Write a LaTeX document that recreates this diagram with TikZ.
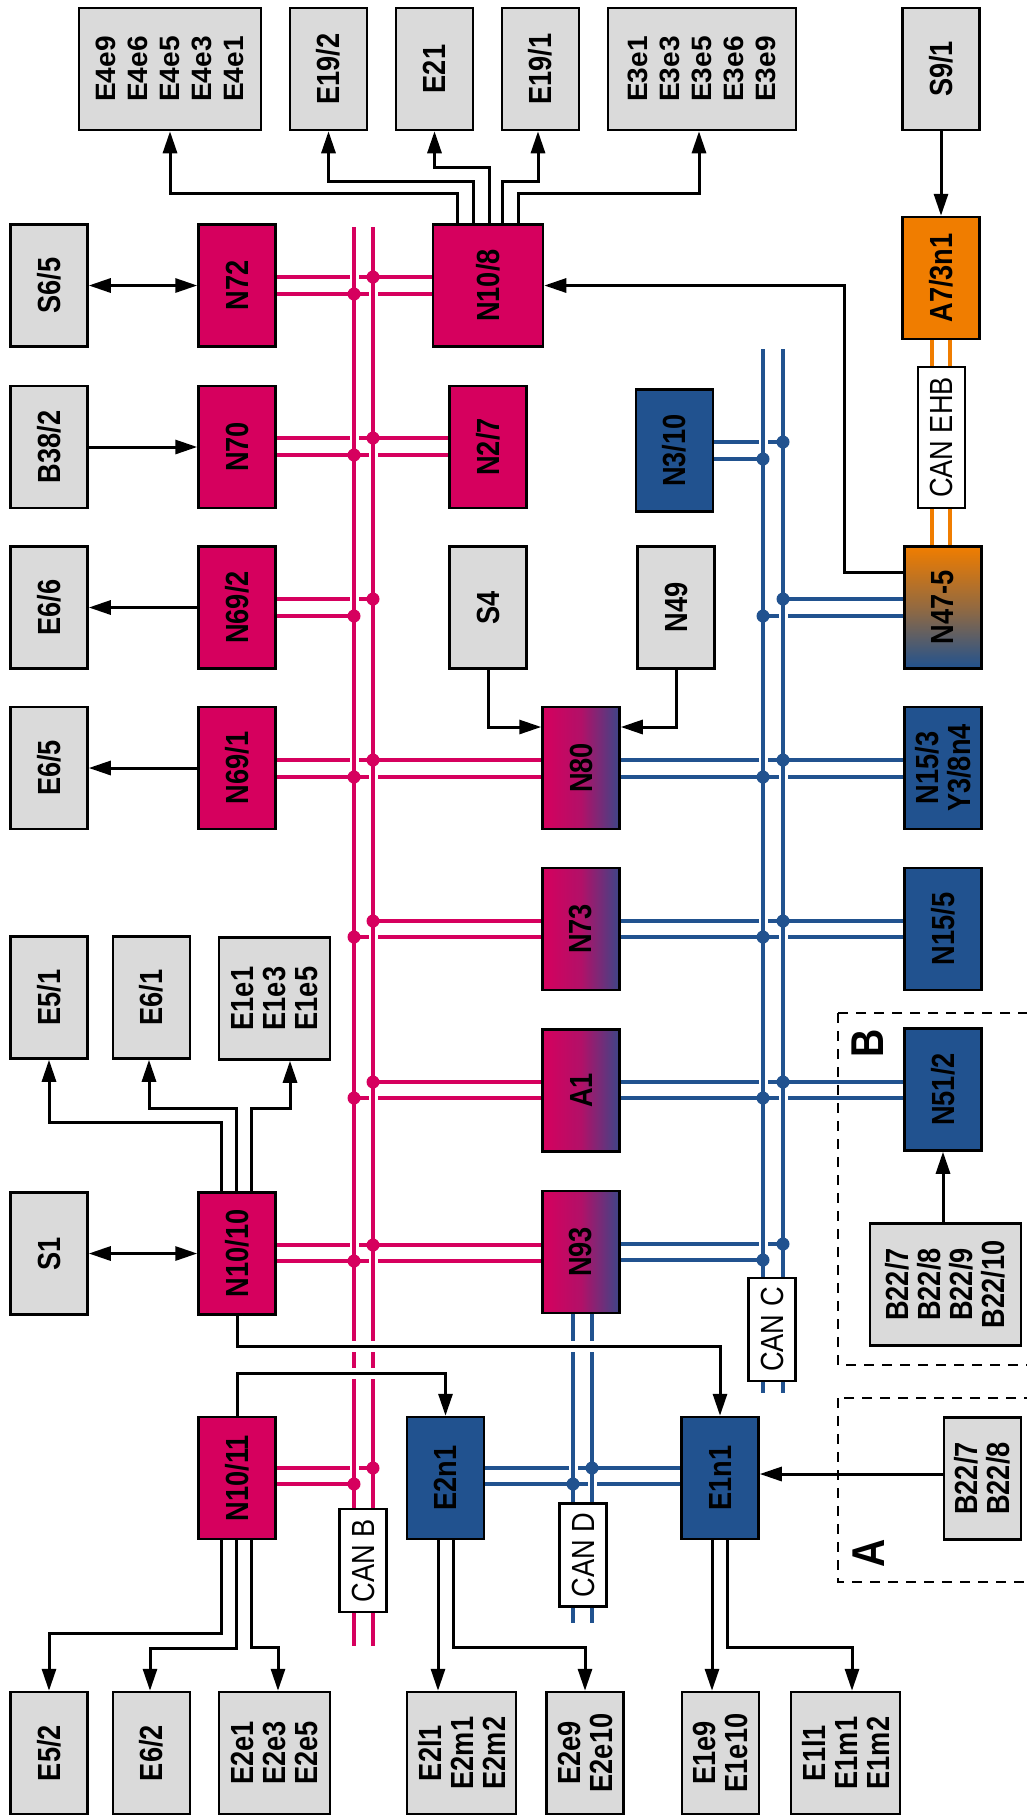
\documentclass[tikz,border=0pt]{standalone}
\usepackage{fontspec}
\setmainfont{Liberation Sans}
\newfontfamily\narrowsans{Liberation Sans}[FakeStretch=0.85]
\usetikzlibrary{arrows.meta}
\definecolor{canred}{RGB}{214,0,94}
\definecolor{canblue}{RGB}{33,82,143}
\definecolor{canorange}{RGB}{240,125,0}
\definecolor{devgray}{RGB}{218,218,218}

\begin{document}
\begin{tikzpicture}[x=1pt, y=-1pt,
    dev/.style={draw, line width=2.5pt, fill=devgray, rotate=90, minimum width=122pt,
      minimum height=77pt, inner sep=0pt, align=center,
      font=\narrowsans\bfseries\fontsize{32}{32}\selectfont},
    small/.style={font=\normalfont\bfseries\fontsize{28}{32}\selectfont},
    ecu/.style={dev, fill=canred},
    bluecu/.style={dev, fill=canblue},
    mixcu/.style={dev, left color=canred, right color=canblue!85!canred, middle color=canred!80!canblue},
    tag/.style={draw, line width=2.5pt, fill=white, rotate=90, minimum width=103pt,
      minimum height=47pt, inner sep=0pt, font=\narrowsans\fontsize{32}{32}\selectfont},
    redbus/.style={canred, line width=4.5pt},
    bluebus/.style={canblue, line width=4.5pt},
    orangebus/.style={canorange, line width=4pt},
    halo/.style={preaction={draw=white, line width=9pt}},
    gap/.style={preaction={draw=white, line width=11pt, -}},
    arr/.style={line width=3pt, -{Triangle[length=22pt,width=14pt]}},
    darr/.style={line width=3pt, {Triangle[length=22pt,width=14pt]}-{Triangle[length=22pt,width=14pt]}},
    area/.style={line width=2pt, dash pattern=on 10pt off 8pt}]
    \useasboundingbox (0,0) rectangle (1026,1816);

    % areas A and B
    \draw[area] (838,1013) rectangle (1040,1365);
    \draw[area] (838,1398) rectangle (1040,1582);

    % top row
    \node[dev, small, minimum height=182pt] (e4) at (170,69) {E4e9\\E4e6\\E4e5\\E4e3\\E4e1};
    \node[dev] (e192) at (328.5,69) {E19/2};
    \node[dev] (e21) at (434.5,69) {E21};
    \node[dev] (e191) at (540.5,69) {E19/1};
    \node[dev, small, minimum height=188pt] (e3) at (702,69) {E3e1\\E3e3\\E3e5\\E3e6\\E3e9};
    \node[dev] (s91) at (941,69) {S9/1};

    \node[dev] (s65) at (49,285.5) {S6/5};
    \node[ecu] (n72) at (237,285.5) {N72};
    \node[ecu, minimum height=110pt] (n108) at (488,285.5) {N10/8};
    \node[dev, fill=canorange] (a73) at (941,278) {A7/3n1};

    \node[dev] (b382) at (49,447) {B38/2};
    \node[ecu] (n70) at (237,447) {N70};
    \node[ecu] (n27) at (488,447) {N2/7};
    \node[bluecu] (n310) at (674.5,450.5) {N3/10};

    \node[dev] (e66) at (49,607.5) {E6/6};
    \node[ecu] (n692) at (237,607.5) {N69/2};
    \node[dev] (s4) at (488,607.5) {S4};
    \node[dev] (n49) at (676,607.5) {N49};
    \node[dev, top color=canorange, bottom color=canblue, middle color=canorange!55!canblue] (n475) at (943,607.5) {N47-5};

    \node[dev] (e65) at (49,768) {E6/5};
    \node[ecu] (n691) at (237,768) {N69/1};
    \node[mixcu] (n80) at (581,768) {N80};
    \node[bluecu] (n153) at (943,768) {N15/3\\Y3/8n4};

    \node[dev] (e51) at (49,997.5) {E5/1};
    \node[dev] (e61) at (151.5,997.5) {E6/1};
    \node[dev, minimum height=111pt] (e1e) at (274.5,998.5) {E1e1\\E1e3\\E1e5};
    \node[mixcu] (n73) at (581,929) {N73};
    \node[bluecu] (n155) at (943,929) {N15/5};

    \node[mixcu] (a1) at (581,1090.5) {A1};
    \node[bluecu] (n512) at (943,1089.5) {N51/2};

    \node[dev] (s1) at (49,1253.5) {S1};
    \node[ecu] (n1010) at (237,1253.5) {N10/10};
    \node[mixcu] (n93) at (581,1252) {N93};
    \node[dev, minimum height=151pt] (b22b) at (945.5,1284.5) {B22/7\\B22/8\\B22/9\\B22/10};

    \node[ecu] (n1011) at (237,1478) {N10/11};
    \node[bluecu] (e2n1) at (445.5,1478) {E2n1};
    \node[bluecu] (e1n1) at (720,1478) {E1n1};
    \node[dev] (b22a) at (982.5,1478.5) {B22/7\\B22/8};

    % bottom row
    \node[dev] (e52) at (49,1753) {E5/2};
    \node[dev] (e62) at (151.5,1753) {E6/2};
    \node[dev, minimum height=111pt] (e2e) at (274.5,1753) {E2e1\\E2e3\\E2e5};
    \node[dev, minimum height=109pt] (e2l) at (461.5,1753) {E2l1\\E2m1\\E2m2};
    \node[dev] (e2e9) at (585,1753) {E2e9\\E2e10};
    \node[dev] (e1e9) at (720.5,1753) {E1e9\\E1e10};
    \node[dev, minimum height=109pt] (e1l) at (845.5,1753) {E1l1\\E1m1\\E1m2};

    % bus ends
    \coordinate (rbL) at (354,227);
    \coordinate (rbR) at (373,227);
    \coordinate (cbL) at (763,349);
    \coordinate (cbR) at (783,349);
    \coordinate (dbL) at (573,1623);
    \coordinate (dbR) at (592,1623);

    % CAN B stubs
    \draw[redbus] (n72.south |- 0,277) -- (n108.north |- 0,277);
    \draw[redbus] (n72.south |- 0,294) -- (n108.north |- 0,294);
    \draw[redbus] (n70.south |- 0,438) -- (n27.north |- 0,438);
    \draw[redbus] (n70.south |- 0,455) -- (n27.north |- 0,455);
    \draw[redbus] (n692.south |- 0,599) -- (rbR |- 0,599);
    \draw[redbus] (n692.south |- 0,616) -- (rbL |- 0,616);
    \draw[redbus] (n691.south |- 0,760) -- (n80.north |- 0,760);
    \draw[redbus] (n691.south |- 0,777) -- (n80.north |- 0,777);
    \draw[redbus] (rbR |- 0,921) -- (n73.north |- 0,921);
    \draw[redbus] (rbL |- 0,937) -- (n73.north |- 0,937);
    \draw[redbus] (rbR |- 0,1082) -- (a1.north |- 0,1082);
    \draw[redbus] (rbL |- 0,1098) -- (a1.north |- 0,1098);
    \draw[redbus] (n1010.south |- 0,1245) -- (n93.north |- 0,1245);
    \draw[redbus] (n1010.south |- 0,1261) -- (n93.north |- 0,1261);
    \draw[redbus] (n1011.south |- 0,1468) -- (rbR |- 0,1468);
    \draw[redbus] (n1011.south |- 0,1484) -- (rbL |- 0,1484);

    % CAN C and CAN D stubs
    \draw[bluebus] (n310.south |- 0,442) -- (cbR |- 0,442);
    \draw[bluebus] (n310.south |- 0,459) -- (cbL |- 0,459);
    \draw[bluebus] (cbR |- 0,599) -- (n475.north |- 0,599);
    \draw[bluebus] (cbL |- 0,616) -- (n475.north |- 0,616);
    \draw[bluebus] (n80.south |- 0,760) -- (n153.north |- 0,760);
    \draw[bluebus] (n80.south |- 0,777) -- (n153.north |- 0,777);
    \draw[bluebus] (n73.south |- 0,921) -- (n155.north |- 0,921);
    \draw[bluebus] (n73.south |- 0,937) -- (n155.north |- 0,937);
    \draw[bluebus] (a1.south |- 0,1082) -- (n512.north |- 0,1082);
    \draw[bluebus] (a1.south |- 0,1098) -- (n512.north |- 0,1098);
    \draw[bluebus] (n93.south |- 0,1244) -- (cbR |- 0,1244);
    \draw[bluebus] (n93.south |- 0,1260) -- (cbL |- 0,1260);
    \draw[bluebus] (e2n1.south |- 0,1468) -- (e1n1.north |- 0,1468);
    \draw[bluebus] (e2n1.south |- 0,1484) -- (e1n1.north |- 0,1484);

    % bus lines
    \draw[redbus, halo] (rbL) -- (rbL |- 0,1646);
    \draw[redbus, halo] (rbR) -- (rbR |- 0,1646);
    \draw[bluebus, halo] (cbL) -- (cbL |- 0,1393);
    \draw[bluebus, halo] (cbR) -- (cbR |- 0,1393);
    \draw[bluebus, halo] (dbL |- n93.west) -- (dbL);
    \draw[bluebus, halo] (dbR |- n93.west) -- (dbR);
    \draw[orangebus] (932,0 |- a73.west) -- (932,0 |- n475.east);
    \draw[orangebus] (950,0 |- a73.west) -- (950,0 |- n475.east);

    % signal lines
    \draw[arr] (457,0 |- n108.east) |- (e4.west |- 0,193) -- (e4.west);
    \draw[arr] (473,0 |- n108.east) |- (e192.west |- 0,181) -- (e192.west);
    \draw[arr] (489,0 |- n108.east) |- (e21.west |- 0,167) -- (e21.west);
    \draw[arr] (502,0 |- n108.east) |- (538,181) -- (538,0 |- e191.west);
    \draw[arr] (518,0 |- n108.east) |- (699,193) -- (699,0 |- e3.west);
    \draw[darr] (s65.south) -- (n72.north);
    \draw[arr] (b382.south) -- (n70.north);
    \draw[arr] (s91.west) -- (a73.east);
    \draw[arr] (n475.north |- 0,572) -| (844,0 |- n108.south) -- (n108.south);
    \draw[arr] (n692.north) -- (e66.south);
    \draw[arr] (n691.north) -- (e65.south);
    \draw[arr] (s4.west) |- (n80.north |- 0,727);
    \draw[arr] (n49.west) |- (n80.south |- 0,727);
    \draw[arr] (221,0 |- n1010.east) |- (e51.west |- 0,1122) -- (e51.west);
    \draw[arr] (236,0 |- n1010.east) |- (149,1108) -- (149,0 |- e61.west);
    \draw[arr] (251,0 |- n1010.east) |- (290,1108) -- (290,0 |- e1e.west);
    \draw[darr] (s1.south) -- (n1010.north);
    \draw[arr, gap] (n1010.west) |- (e1n1.east |- 0,1346) -- (e1n1.east);
    \draw[arr, gap] (n1011.east) |- (e2n1.east |- 0,1373) -- (e2n1.east);
    \draw[arr] (221,0 |- n1011.west) |- (e52.east |- 0,1633) -- (e52.east);
    \draw[arr] (236,0 |- n1011.west) |- (150,1648) -- (150,0 |- e62.east);
    \draw[arr] (251,0 |- n1011.west) |- (278,1647) -- (278,0 |- e2e.east);
    \draw[arr] (438,0 |- e2n1.west) -- (438,0 |- e2l.east);
    \draw[arr] (453,0 |- e2n1.west) |- (e2e9.east |- 0,1647) -- (e2e9.east);
    \draw[arr] (712,0 |- e1n1.west) -- (712,0 |- e1e9.east);
    \draw[arr] (727,0 |- e1n1.west) |- (852,1647) -- (852,0 |- e1l.east);
    \draw[arr] (b22a.north |- 0,1474) -- (e1n1.south |- 0,1474);
    \draw[arr] (n512.west |- b22b.east) -- (n512.west);

    % junctions
    \fill[canred] (rbR |- 0,277) circle (6.5pt) (rbL |- 0,294) circle (6.5pt)
      (rbR |- 0,438) circle (6.5pt) (rbL |- 0,455) circle (6.5pt)
      (rbR |- 0,599) circle (6.5pt) (rbL |- 0,616) circle (6.5pt)
      (rbR |- 0,760) circle (6.5pt) (rbL |- 0,777) circle (6.5pt)
      (rbR |- 0,921) circle (6.5pt) (rbL |- 0,937) circle (6.5pt)
      (rbR |- 0,1082) circle (6.5pt) (rbL |- 0,1098) circle (6.5pt)
      (rbR |- 0,1245) circle (6.5pt) (rbL |- 0,1261) circle (6.5pt)
      (rbR |- 0,1468) circle (6.5pt) (rbL |- 0,1484) circle (6.5pt);
    \fill[canblue] (cbR |- 0,442) circle (6.5pt) (cbL |- 0,459) circle (6.5pt)
      (cbR |- 0,599) circle (6.5pt) (cbL |- 0,616) circle (6.5pt)
      (cbR |- 0,760) circle (6.5pt) (cbL |- 0,777) circle (6.5pt)
      (cbR |- 0,921) circle (6.5pt) (cbL |- 0,937) circle (6.5pt)
      (cbR |- 0,1082) circle (6.5pt) (cbL |- 0,1098) circle (6.5pt)
      (cbR |- 0,1244) circle (6.5pt) (cbL |- 0,1260) circle (6.5pt)
      (dbR |- 0,1468) circle (6.5pt) (dbL |- 0,1484) circle (6.5pt);

    % bus names
    \node[tag] (canb) at (363,1560.5) {CAN B};
    \node[tag] (cand) at (583,1555) {CAN D};
    \node[tag] (canc) at (772,1329.5) {CAN C};
    \node[tag, minimum width=141pt] (canehb) at (941.5,437.5) {CAN EHB};
    \node[rotate=90, font=\narrowsans\bfseries\fontsize{46}{46}\selectfont] (areab) at (868,1043) {B};
    \node[rotate=90, font=\narrowsans\bfseries\fontsize{46}{46}\selectfont] (areaa) at (869,1553) {A};
\end{tikzpicture}
\end{document}
